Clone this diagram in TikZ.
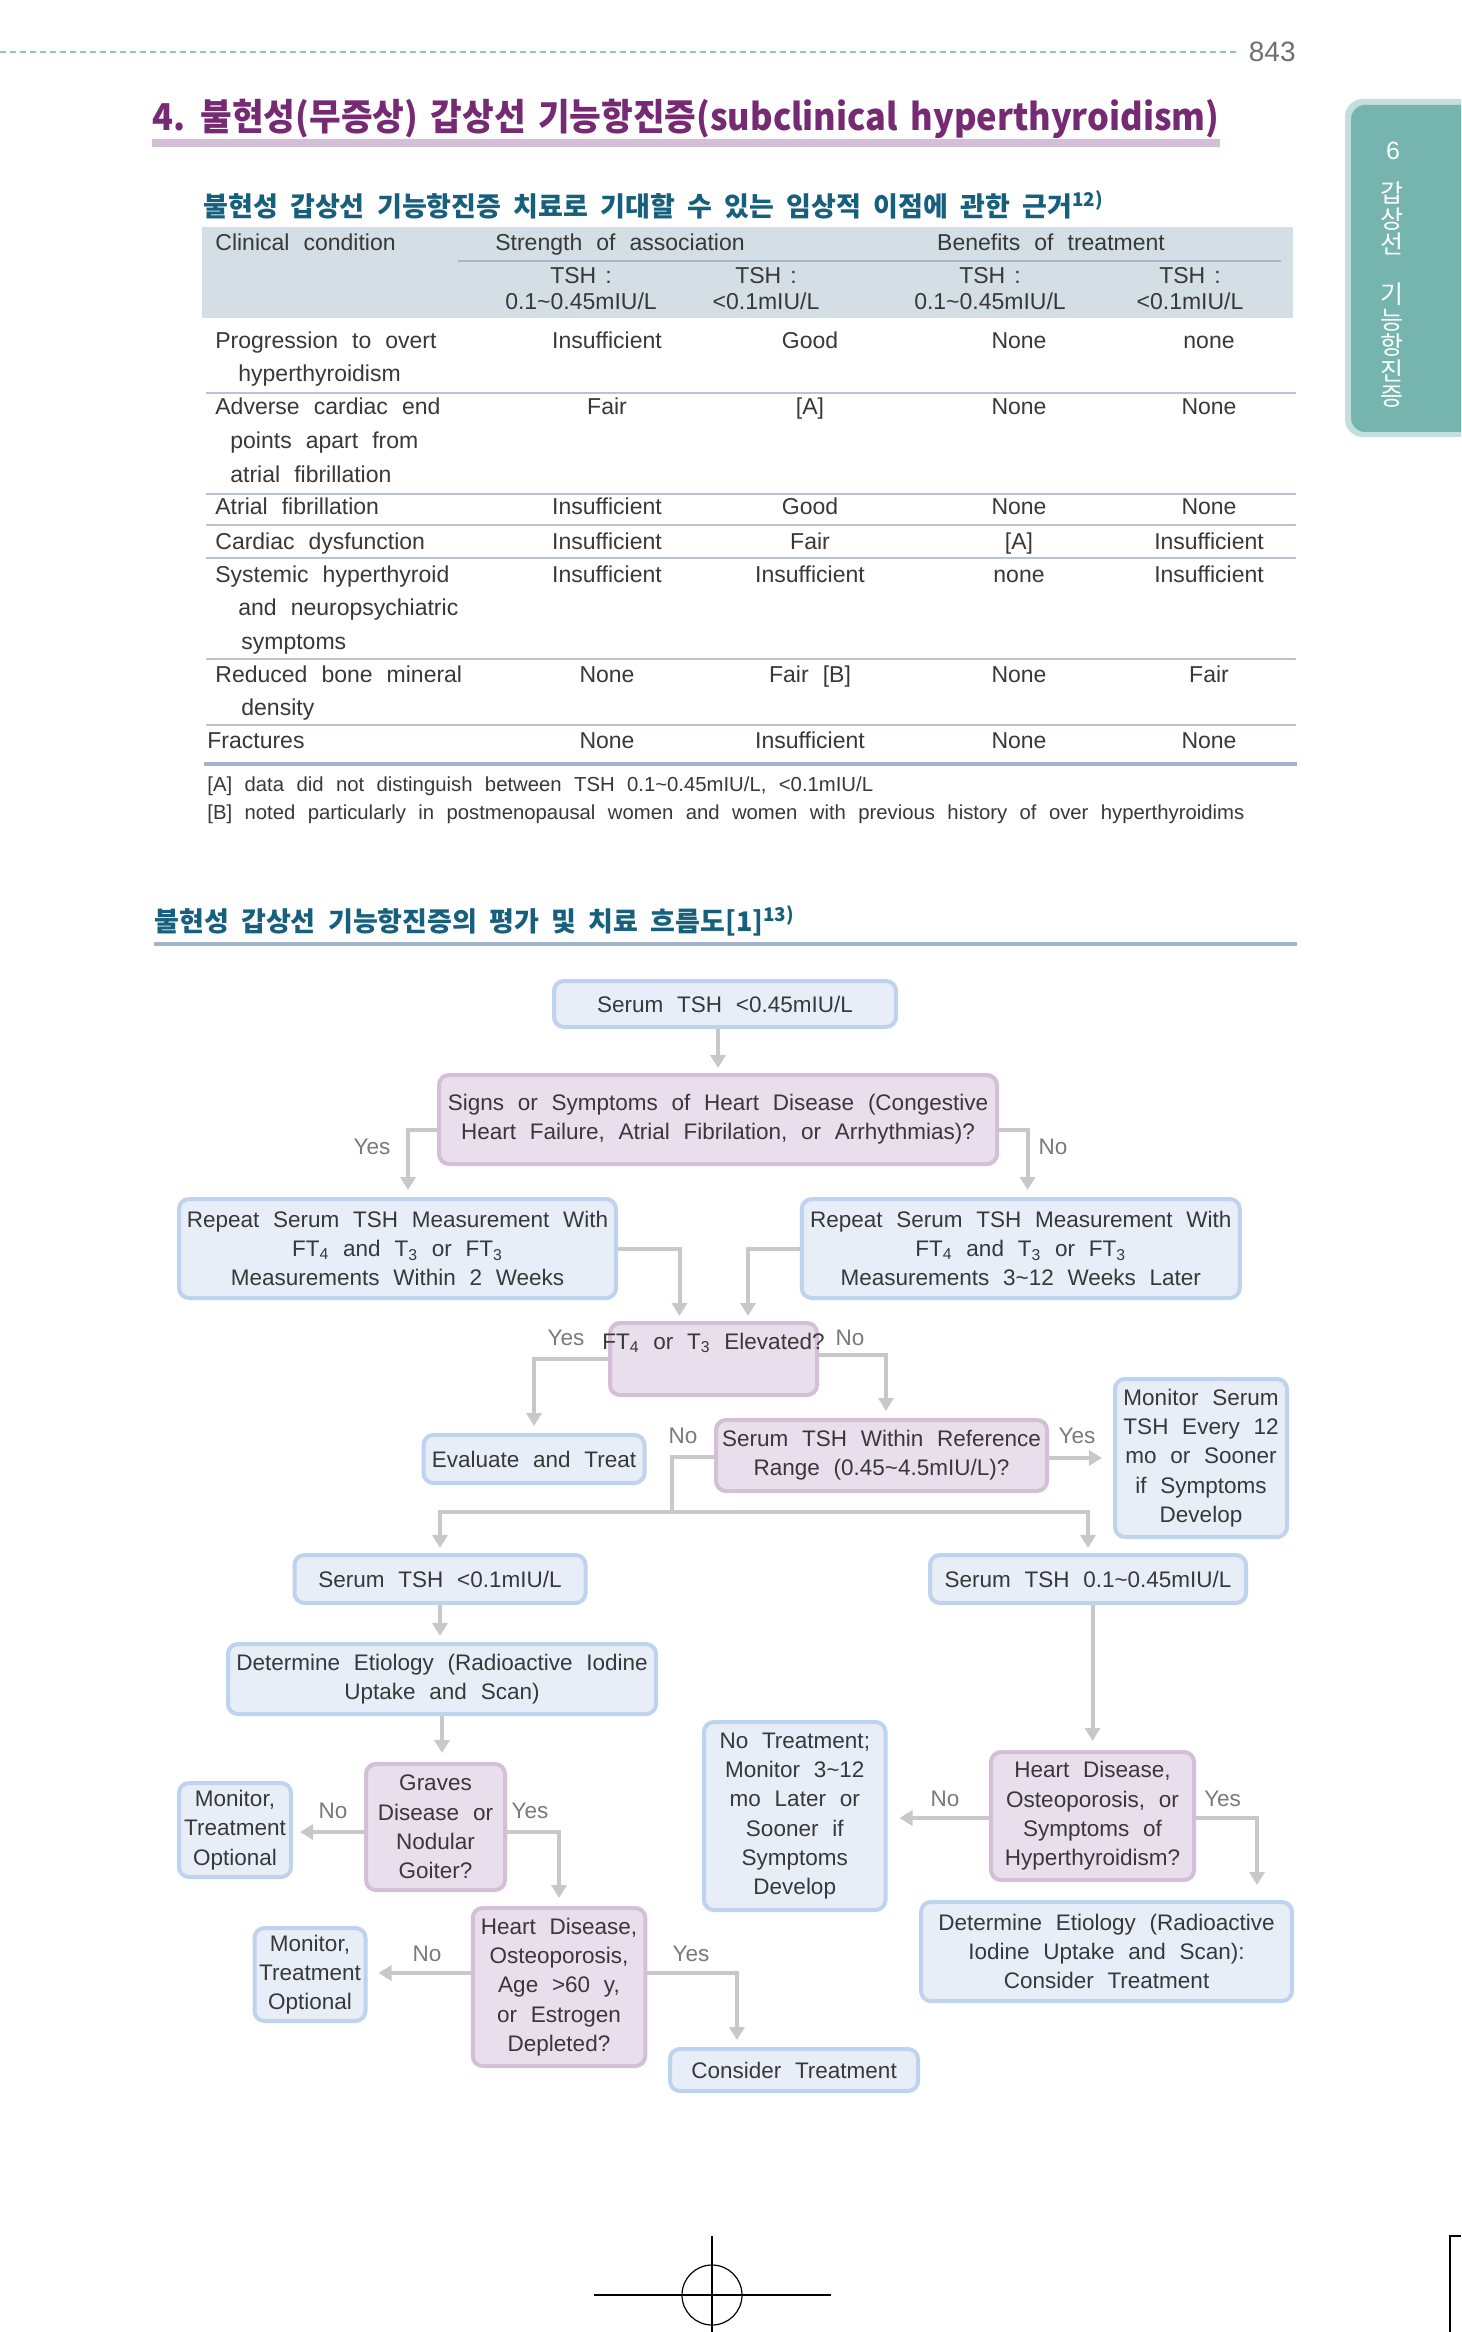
\documentclass[tikz,border=0pt]{standalone}
\usepackage{fontspec}
\setmainfont{Liberation Sans}[WordSpace=2.2]
\newfontfamily\krfont{Noto Sans CJK KR}[WordSpace=2.0]
\newfontfamily\krtitle{Noto Sans CJK KR}[FakeStretch=0.93,WordSpace=1.6]
\usetikzlibrary{arrows.meta,calc}
\definecolor{txt}{HTML}{383838}
\definecolor{labgray}{HTML}{7A7A7A}
\definecolor{conngray}{HTML}{C8C8C8}
\definecolor{boxblue}{HTML}{BFD2EE}
\definecolor{fillblue}{HTML}{E8EEF8}
\definecolor{boxpurp}{HTML}{D5BFD8}
\definecolor{fillpurp}{HTML}{E9DEEB}
\definecolor{purp}{HTML}{762A73}
\definecolor{purpbar}{HTML}{D5BED7}
\definecolor{krteal}{HTML}{17607D}
\definecolor{hdrbg}{HTML}{D3DEE5}
\definecolor{hdrline}{HTML}{A8B7CC}
\definecolor{rowline}{HTML}{B8C4D6}
\definecolor{botline}{HTML}{A3B3CA}
\definecolor{tabout}{HTML}{C3DEDB}
\definecolor{tabin}{HTML}{76B4AF}
\definecolor{dashteal}{HTML}{8FC4BF}
\definecolor{pagegray}{HTML}{707070}
\newcommand\fcfont{\fontsize{11.25}{14.65}\selectfont}
\newcommand\tbfont{\fontsize{11.5}{14}\selectfont}
\newcommand\tld{\textasciitilde}
\newcommand\tshc{TSH\hspace{4.5pt}:}
\newcommand\tabrow[6]{%
  \node[tb,anchor=base] (#1a) at (607,#2) {#3};
  \node[tb,anchor=base] (#1b) at (810,#2) {#4};
  \node[tb,anchor=base] (#1c) at (1019,#2) {#5};
  \node[tb,anchor=base] (#1d) at (1209,#2) {#6};}
\tikzset{
  bluebox/.style={draw=boxblue, fill=fillblue, line width=2pt, rounded corners=5pt, align=center, font=\fcfont, text=txt, inner sep=0pt},
  purpbox/.style={draw=boxpurp, fill=fillpurp, line width=2pt, rounded corners=5pt, align=center, font=\fcfont, text=txt, inner sep=0pt},
  conn/.style={draw=conngray, line width=2pt, -{Triangle[width=7.5pt,length=6.5pt]}, shorten >=3pt},
  seg/.style={draw=conngray, line width=2pt, line cap=rect},
  lab/.style={font=\fcfont, text=labgray, inner sep=0pt},
  fctext/.style={font=\fcfont, text=txt, inner sep=0pt},
  tb/.style={font=\tbfont, text=txt, inner sep=0pt},
  fn/.style={font=\fontsize{10.15}{12}\selectfont, text=txt, inner sep=0pt, anchor=base west},
}
\begin{document}
\begin{tikzpicture}[x=0.5pt,y=-0.5pt]
\useasboundingbox (0,0) rectangle (1461,2332);
\fill[white] (0,0) rectangle (1461,2332);

% ---------- page header ----------
\draw[dashteal, line width=0.8pt, dash pattern=on 3pt off 2pt] (0,52) -- (1240,52);
\node[anchor=east, inner sep=0pt, text=pagegray, font=\fontsize{14}{16}\selectfont] (pg) at (1296,52) {843};
\fill[purpbar] (152,139) rectangle (1220,147);
\node[anchor=west, inner sep=0pt, text=purp, font=\krtitle\bfseries\fontsize{18.5}{22}\selectfont] (title) at (152,119) {4. 불현성(무증상) 갑상선 기능항진증(subclinical hyperthyroidism)};

% ---------- side tab ----------
\begin{scope}
\clip (0,0) rectangle (1461,2332);
\fill[tabout, rounded corners=9pt] (1345,99) rectangle (1500,437);
\fill[tabin, rounded corners=7pt] (1351,105) rectangle (1500,432);
\end{scope}
\node[inner sep=0pt, text=white, font=\fontsize{12.5}{14}\selectfont] (tab6) at (1393,151) {6};
\foreach \ch/\yy in {갑/193,상/219,선/244,기/294,능/320,항/345,진/371,증/397}
  \node[inner sep=0pt, text=white, font=\krfont\fontsize{12.5}{14}\selectfont] (tab\yy) at (1392,\yy) {\ch};

% ---------- table ----------
\node[anchor=west, inner sep=0pt, text=krteal, font=\krfont\bfseries\fontsize{13.5}{16}\selectfont] (sub1) at (203,205) {불현성 갑상선 기능항진증 치료로 기대할 수 있는 임상적 이점에 관한 근거\textsuperscript{12)}};
\fill[hdrbg] (202,227) rectangle (1293,318);
\draw[hdrline, line width=1pt] (458,261) -- (1281,261);
\node[tb, anchor=base west] (hc) at (215,251) {Clinical condition};
\node[tb, anchor=base] (hs) at (620,251) {Strength of association};
\node[tb, anchor=base] (hb) at (1051,251) {Benefits of treatment};
\node[tb, anchor=base] (h1a) at (581,284) {\tshc};
\node[tb, anchor=base] (h1b) at (581,310) {0.1\tld0.45mIU/L};
\node[tb, anchor=base] (h2a) at (766,284) {\tshc};
\node[tb, anchor=base] (h2b) at (766,310) {<0.1mIU/L};
\node[tb, anchor=base] (h3a) at (990,284) {\tshc};
\node[tb, anchor=base] (h3b) at (990,310) {0.1\tld0.45mIU/L};
\node[tb, anchor=base] (h4a) at (1190,284) {\tshc};
\node[tb, anchor=base] (h4b) at (1190,310) {<0.1mIU/L};

\foreach \yy in {393,494,525,558,659,725}
  \draw[rowline, line width=1pt] (206,\yy) -- (1296,\yy);
\draw[botline, line width=2pt] (204,764) -- (1297,764);

\node[tb, anchor=base west] (l1a) at (215,349) {Progression to overt};
\node[tb, anchor=base west] (l1b) at (238,382) {hyperthyroidism};
\node[tb, anchor=base west] (l2a) at (215,415) {Adverse cardiac end};
\node[tb, anchor=base west] (l2b) at (230,449) {points apart from};
\node[tb, anchor=base west] (l2c) at (230,482) {atrial fibrillation};
\node[tb, anchor=base west] (l3a) at (215,515) {Atrial fibrillation};
\node[tb, anchor=base west] (l4a) at (215,549) {Cardiac dysfunction};
\node[tb, anchor=base west] (l5a) at (215,582) {Systemic hyperthyroid};
\node[tb, anchor=base west] (l5b) at (238,615) {and neuropsychiatric};
\node[tb, anchor=base west] (l5c) at (241,649) {symptoms};
\node[tb, anchor=base west] (l6a) at (215,682) {Reduced bone mineral};
\node[tb, anchor=base west] (l6b) at (241,715) {density};
\node[tb, anchor=base west] (l7a) at (207,748) {Fractures};

\tabrow{r1v}{349}{Insufficient}{Good}{None}{none}
\tabrow{r2v}{415}{Fair}{[A]}{None}{None}
\tabrow{r3v}{515}{Insufficient}{Good}{None}{None}
\tabrow{r4v}{549}{Insufficient}{Fair}{[A]}{Insufficient}
\tabrow{r5v}{582}{Insufficient}{Insufficient}{none}{Insufficient}
\tabrow{r6v}{682}{None}{Fair [B]}{None}{Fair}
\tabrow{r7v}{748}{None}{Insufficient}{None}{None}

\node[fn] (fnA) at (207,791) {[A] data did not distinguish between TSH 0.1\tld0.45mIU/L, <0.1mIU/L};
\node[fn] (fnB) at (207,819) {[B] noted particularly in postmenopausal women and women with previous history of over hyperthyroidims};

% ---------- flowchart ----------
\node[anchor=west, inner sep=0pt, text=krteal, font=\krfont\bfseries\fontsize{13.5}{16}\selectfont] (sub2) at (154,921) {불현성 갑상선 기능항진증의 평가 및 치료 흐름도[1]\textsuperscript{13)}};
\draw[botline, line width=2pt] (154,943.5) -- (1297,943.5);

\node[bluebox, minimum width=171pt, minimum height=23pt] (s1) at (725,1004) {Serum TSH <0.45mIU/L};
\node[purpbox, minimum width=279pt, minimum height=44.5pt] (q1) at (718,1119.5) {Signs or Symptoms of Heart Disease (Congestive\\Heart Failure, Atrial Fibrilation, or Arrhythmias)?};
\node[bluebox, minimum width=218.5pt, minimum height=49.5pt] (r1) at (397.5,1248.5) {Repeat Serum TSH Measurement With\\FT\textsubscript{4} and T\textsubscript{3} or FT\textsubscript{3}\\Measurements Within 2 Weeks};
\node[bluebox, minimum width=219pt, minimum height=49.5pt] (r2) at (1020.75,1248.5) {Repeat Serum TSH Measurement With\\FT\textsubscript{4} and T\textsubscript{3} or FT\textsubscript{3}\\Measurements 3\tld12 Weeks Later};
\node[purpbox, minimum width=103.5pt, minimum height=36pt] (fe) at (713.5,1359) {};
\node[fctext] (fet) at (713.5,1343) {FT\textsubscript{4} or T\textsubscript{3} Elevated?};
\node[bluebox, minimum width=110.5pt, minimum height=24pt] (ev) at (534,1459) {Evaluate and Treat};
\node[purpbox, minimum width=165.5pt, minimum height=35.5pt] (sr) at (881.5,1455.5) {Serum TSH Within Reference\\Range (0.45\tld4.5mIU/L)?};
\node[bluebox, minimum width=86pt, minimum height=79pt] (mon) at (1201,1458) {Monitor Serum\\TSH Every 12\\mo or Sooner\\if Symptoms\\Develop};
\node[bluebox, minimum width=145.5pt, minimum height=24pt] (t1) at (440,1579) {Serum TSH <0.1mIU/L};
\node[bluebox, minimum width=158pt, minimum height=24pt] (t2) at (1088,1579) {Serum TSH 0.1\tld0.45mIU/L};
\node[bluebox, minimum width=214pt, minimum height=35pt] (de1) at (442,1679) {Determine Etiology (Radioactive Iodine\\Uptake and Scan)};
\node[purpbox, minimum width=69.5pt, minimum height=63pt] (gr) at (435.5,1827) {Graves\\Disease or\\Nodular\\Goiter?};
\node[bluebox, minimum width=56pt, minimum height=47pt] (m1) at (235,1830) {Monitor,\\Treatment\\Optional};
\node[purpbox, minimum width=86.25pt, minimum height=79pt] (hd1) at (559,1987) {Heart Disease,\\Osteoporosis,\\Age >60 y,\\or Estrogen\\Depleted?};
\node[bluebox, minimum width=55.5pt, minimum height=46.5pt] (m2) at (310,1974.5) {Monitor,\\Treatment\\Optional};
\node[bluebox, minimum width=124pt, minimum height=21pt] (ct) at (794,2070) {Consider Treatment};
\node[bluebox, minimum width=90.75pt, minimum height=94pt] (nt) at (794.75,1816) {No Treatment;\\Monitor 3\tld12\\mo Later or\\Sooner if\\Symptoms\\Develop};
\node[purpbox, minimum width=101.5pt, minimum height=64pt] (hd2) at (1092.5,1816) {Heart Disease,\\Osteoporosis, or\\Symptoms of\\Hyperthyroidism?};
\node[bluebox, minimum width=185.5pt, minimum height=49.5pt] (de2) at (1106.5,1951.5) {Determine Etiology (Radioactive\\Iodine Uptake and Scan):\\Consider Treatment};

% connectors
\draw[conn, shorten >=2.5pt] (s1.south -| q1.north) -- (q1.north);
\draw[conn, shorten >=3.5pt] ([yshift=-5.25pt]q1.west) -| ([xshift=5.25pt]r1.north);
\draw[conn, shorten >=3.5pt] ([yshift=-5.25pt]q1.east) -| ([xshift=3.4pt]r2.north);
\draw[conn, shorten >=2.5pt] (r1.east) -| ([xshift=-17pt]fe.north);
\draw[conn, shorten >=2.5pt] (r2.west) -| ([xshift=17.25pt]fe.north);
\draw[conn, shorten >=3.5pt] (fe.west) -| (ev.north);
\draw[conn, shorten >=3.5pt] ([yshift=2pt]fe.east) -| ([xshift=2.25pt]sr.north);
\draw[conn, shorten >=5.5pt] ([yshift=-1.25pt]sr.east) -- ([yshift=-1.25pt]sr.east -| mon.west);
\coordinate (j1) at (672,1512);
\draw[seg] ([yshift=-0.75pt]sr.west) -| (j1);
\draw[conn, shorten >=2.5pt] (j1) -| (t1.north);
\draw[conn, shorten >=2.5pt] (j1) -| (t2.north);
\draw[conn] (t1.south) -- (t1.south |- de1.north);
\draw[conn, shorten >=4.5pt] (t2.south -| hd2.north) -- (hd2.north);
\draw[conn, shorten >=4.5pt] (de1.south) -- (de1.south |- gr.north);
\draw[conn, shorten >=4pt] ([yshift=-2.5pt]gr.east) -| (hd1.north);
\draw[conn, shorten >=3.5pt] ([yshift=-2.5pt]gr.west) -- ([yshift=-2.5pt]gr.west -| m1.east);
\draw[conn, shorten >=3.5pt] ([yshift=7pt]hd1.east) -| ([xshift=-28.5pt]ct.north);
\draw[conn, shorten >=5.5pt] ([yshift=7pt]hd1.west) -- ([yshift=7pt]hd1.west -| m2.east);
\draw[conn, shorten >=6pt] ([yshift=-1pt]hd2.west) -- ([yshift=-1pt]hd2.west -| nt.east);
\draw[conn, shorten >=7.5pt] ([yshift=-1pt]hd2.east) -| ([xshift=75.25pt]de2.north);

% labels
\node[lab] (ly1) at (372,1147) {Yes};
\node[lab] (ln1) at (1053,1147) {No};
\node[lab] (ly2) at (566,1338) {Yes};
\node[lab] (ln2) at (850,1338) {No};
\node[lab] (ln3) at (683,1436) {No};
\node[lab] (ly3) at (1077,1436) {Yes};
\node[lab] (ln4) at (333,1811) {No};
\node[lab] (ly4) at (530,1811) {Yes};
\node[lab] (ln5) at (427,1954) {No};
\node[lab] (ly5) at (691,1954) {Yes};
\node[lab] (ln6) at (945,1799) {No};
\node[lab] (ly6) at (1222.6,1799) {Yes};

% ---------- crop marks ----------
\draw[black, line width=0.6pt] (594,2295) -- (831,2295);
\draw[black, line width=0.6pt] (712,2236) -- (712,2332);
\draw[black, line width=0.6pt] (712,2295) circle[radius=15pt];
\draw[black, line width=0.6pt] (1461,2236) -- (1450,2236) -- (1450,2332);
\end{tikzpicture}
\end{document}
